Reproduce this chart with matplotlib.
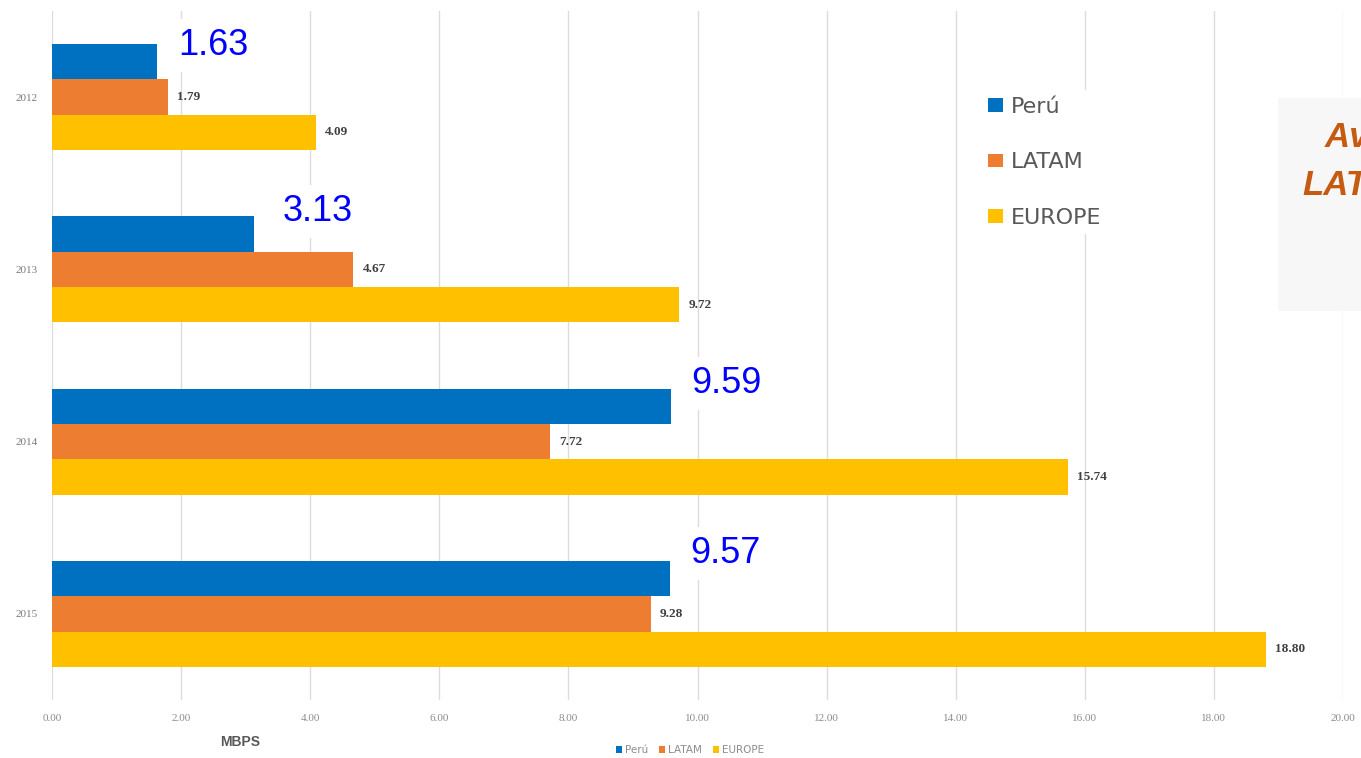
import matplotlib
matplotlib.use("Agg")
import matplotlib.pyplot as plt
from matplotlib.patches import Rectangle
import numpy as np

# Average connection speed (Mbps) by year
years = ["2012", "2013", "2014", "2015"]
peru = [1.63, 3.13, 9.59, 9.57]
latam = [1.79, 4.67, 7.72, 9.28]
europe = [4.09, 9.72, 15.74, 18.80]
series_names = ["Perú", "LATAM", "EUROPE"]
x_ticks = [0, 2, 4, 6, 8, 10, 12, 14, 16, 18, 20]

colors = ["#0070C0", "#ED7D31", "#FFC000"]

W, H = 1361, 758
fig = plt.figure(figsize=(W / 100, H / 100), dpi=100)
fig.patch.set_facecolor("white")

def fx(px):
    return px / W

def fy(py):
    return 1 - py / H

ax = fig.add_axes([fx(52), fy(700), fx(1343) - fx(52), fy(11) - fy(700)])

y = np.arange(len(years))
bh = 0.205
series = [peru, latam, europe]
bars = []
for i, (vals, col, name) in enumerate(zip(series, colors, series_names)):
    b = ax.barh(y + (i - 1) * bh, vals, height=bh, color=col, label=name,
                zorder=3, linewidth=0)
    bars.append(b)

ax.set_xlim(0, 20)
ax.set_ylim(len(years) - 0.5, -0.5)
ax.set_xticks(x_ticks)
ax.set_xticklabels([f"{v:.2f}" for v in x_ticks], fontsize=8,
                   color="#8c8c8c", family="Liberation Serif")
ax.set_yticks(y)
ax.set_yticklabels(years, fontsize=8, color="#7a7a7a", family="Liberation Serif")
ax.tick_params(axis="x", length=0, pad=10)
ax.tick_params(axis="y", length=0, pad=10)
for s in ax.spines.values():
    s.set_visible(False)
ax.grid(axis="x", color="#dcdcdc", linewidth=1, zorder=0)
ax.set_axisbelow(True)

# small value labels for LATAM and EUROPE
for i, vals in ((1, latam), (2, europe)):
    for k, v in enumerate(vals):
        ax.annotate(f"{v:.2f}", xy=(v, y[k] + (i - 1) * bh),
                    xytext=(9, 0), textcoords="offset pixels",
                    ha="left", va="center", fontsize=9.5, fontweight="bold",
                    color="#404040", family="Liberation Serif", zorder=4)

# large highlighted labels for Perú
label_shift = [(21, 16), (29, 23), (20, 23), (21, 25)]
for k, v in enumerate(peru):
    dx, dy = label_shift[k]
    ax.annotate(f"{v:.2f}", xy=(v, y[k] - bh), xytext=(dx, dy),
                textcoords="offset pixels", ha="left", va="center",
                fontsize=26, color="#0000FF", family="Liberation Sans",
                zorder=5,
                bbox=dict(boxstyle="square,pad=0.25", facecolor="white",
                          edgecolor="none"))

# legend inside the plot area
leg = fig.legend(handles=bars, labels=series_names, loc="upper left",
                 bbox_to_anchor=(fx(981), fy(90)), frameon=True,
                 labelspacing=1.6,
                 handlelength=0.7, handleheight=0.55, handletextpad=0.35,
                 borderpad=0.3, borderaxespad=0, fancybox=False,
                 prop={"family": "DejaVu Sans", "size": 16})
leg.get_frame().set_facecolor("white")
leg.get_frame().set_edgecolor("none")
leg.get_frame().set_alpha(1)
for t in leg.get_texts():
    t.set_color("#595959")

# bottom legend
leg2 = fig.legend(handles=bars, labels=series_names, loc="center",
                  bbox_to_anchor=(fx(690), fy(750)), ncol=3, frameon=False,
                  handlelength=0.6, handleheight=0.6, handletextpad=0.3,
                  columnspacing=1.0, prop={"family": "DejaVu Sans", "size": 7.5})
for t in leg2.get_texts():
    t.set_color("#8c8c8c")

fig.text(fx(240), fy(742), "MBPS", ha="center", va="center", fontsize=10,
         fontweight="bold", color="#595959", family="Liberation Sans")

# side panel with title text
fig.patches.append(Rectangle((fx(1278), fy(311)), fx(1361) - fx(1278) + 0.01,
                             fy(98) - fy(311), transform=fig.transFigure,
                             facecolor="#F7F7F7", edgecolor="none", zorder=6))
fig.text(fx(1325), fy(147), "Average", ha="left", va="baseline", fontsize=25,
         fontweight="bold", fontstyle="italic", color="#C55A11",
         family="Liberation Sans", zorder=7)
fig.text(fx(1302), fy(195), "LATAM", ha="left", va="baseline", fontsize=25,
         fontweight="bold", fontstyle="italic", color="#C55A11",
         family="Liberation Sans", zorder=7)

fig.savefig("out.png", dpi=100, facecolor="white")
